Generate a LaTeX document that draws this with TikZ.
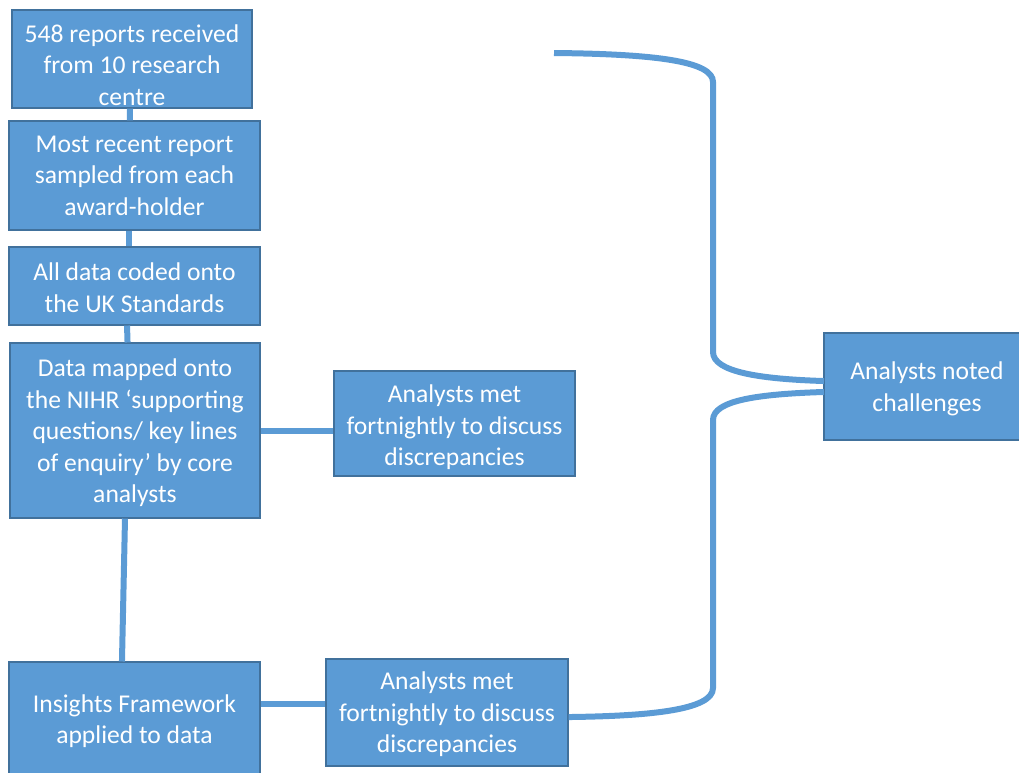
\documentclass[tikz,border=0pt]{standalone}
\usepackage{fontspec}
\setmainfont{Carlito}
\definecolor{boxfill}{HTML}{5B9BD5}
\definecolor{boxline}{HTML}{41719C}
\newcommand{\topstrut}[1][19pt]{\rule{0pt}{#1}}
\begin{document}
\begin{tikzpicture}[x=0.75pt,y=-0.75pt,
  flowbox/.style={draw=boxline,line width=0.8pt,fill=boxfill,text=white,align=center,
    inner sep=0pt,font=\fontsize{19.2pt}{23.6pt}\selectfont},
  link/.style={draw=boxfill,line width=4.5pt}]
\useasboundingbox (0,0) rectangle (1019,772);
\node[flowbox,minimum width=180pt,minimum height=73.5pt] (b1) at (132,59)
  {\topstrut[22pt]548 reports received\\from 10 research\\centre};
\node[flowbox,minimum width=188.25pt,minimum height=81.75pt] (b2) at (134.5,175.5)
  {Most recent report\\sampled from each\\award-holder};
\node[flowbox,minimum width=188.25pt,minimum height=58.5pt] (b3) at (134.5,286)
  {\topstrut[16pt]All data coded onto\\the UK Standards};
\node[flowbox,minimum width=187.5pt,minimum height=131.25pt] (b4) at (135,430.5)
  {\topstrut[16.8pt]Data mapped onto\\the NIHR ‘supporting\\questions/ key lines\\of enquiry’ by core\\analysts};
\node[flowbox,minimum width=180.75pt,minimum height=78.75pt] (b5) at (454.5,423.5)
  {\topstrut Analysts met\\fortnightly to discuss\\discrepancies};
\node[flowbox,minimum width=188.25pt,minimum height=87pt] (b6) at (134.5,720)
  {\topstrut[15.3pt]Insights Framework\\applied to data};
\node[flowbox,minimum width=181.5pt,minimum height=80.25pt] (b7) at (447,712.5)
  {\topstrut[16pt]Analysts met\\fortnightly to discuss\\discrepancies};
\node[flowbox,minimum width=154.5pt,minimum height=80.25pt] (b8) at (927,386.5)
  {\topstrut[16.8pt]Analysts noted\\challenges};
\coordinate (top) at (554,53);
% vertical chain
\draw[link] ([xshift=-1.5pt]b1.south) -- ([xshift=-3.4pt]b2.north);
\draw[link] ([xshift=-4.1pt]b2.south) -- ([xshift=-4.1pt]b3.north);
\draw[link] ([xshift=-5.6pt]b3.south) -- ([xshift=-5.6pt]b4.north);
\draw[link] ([xshift=-7.5pt]b4.south) -- ([xshift=-9.4pt]b6.north);
% side links
\draw[link] (b4.east) -- (b4.east -| b5.west);
\draw[link] ([yshift=12pt]b6.east) -- ([yshift=12pt]b6.east -| b7.west);
% brace
\draw[link] (top) .. controls (660,54) and (713,62) .. (713,82)
  -- (713,352) .. controls (713,372) and (760,379) .. ([yshift=4.1pt]b8.west -| 824,0);
\draw[link] ([yshift=-4.1pt]b8.west -| 824,0) .. controls (760,394) and (713,400) .. (713,420)
  -- (713,688) .. controls (713,710) and (650,716) .. ([yshift=-3.4pt]b7.east);
\end{tikzpicture}
\end{document}
